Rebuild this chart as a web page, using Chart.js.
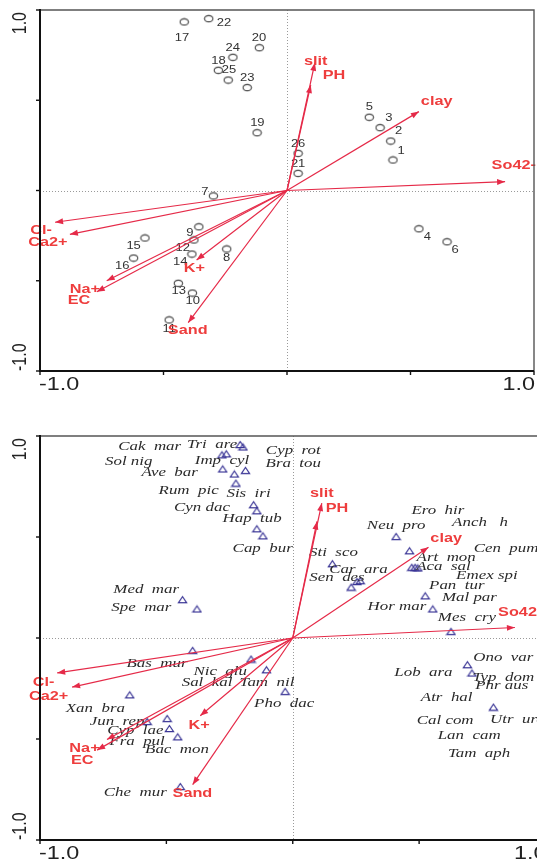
<!DOCTYPE html>
<html>
<head>
<meta charset="utf-8">
<script src="https://cdn.jsdelivr.net/npm/chart.js@4.4.1/dist/chart.umd.min.js"></script>
<style>
  html, body { margin: 0; padding: 0; overflow: hidden; background: #fff; width: 537px; height: 863px; }
  #sites { position: absolute; left: 0; top: 0; }
  #species { position: absolute; left: 0; top: 426px; }
</style>
</head>
<body>
<canvas id="sites" width="537" height="400"></canvas>
<canvas id="species" width="560" height="437"></canvas>
<script>
// ---------- axis ticks ----------
const tickValues = [-1, -0.5, 0, 0.5, 1];
const tickLabelValues = [-1, 1];
const tickLabels = ['-1.0', '1.0'];

// ---------- environmental variables ----------
const envNames = ['slit', 'PH', 'clay', 'So42-', 'Cl-', 'Ca2+', 'Na+', 'EC', 'K+', 'Sand'];

// site ordination (upper panel)
const envSiteX = [0.113, 0.096, 0.534, 0.883, -0.939, -0.879, -0.730, -0.770, -0.366, -0.400];
const envSiteY = [0.708, 0.584, 0.437, 0.049, -0.176, -0.243, -0.500, -0.561, -0.385, -0.732];
const envSiteLabelX = [0.116, 0.190, 0.606, 0.918, -0.996, -0.968, -0.818, -0.842, -0.375, -0.402];
const envSiteLabelY = [0.714, 0.638, 0.492, 0.141, -0.224, -0.289, -0.551, -0.607, -0.433, -0.777];

// species ordination (lower panel)
const envSpecX = [0.115, 0.096, 0.537, 0.879, -0.932, -0.873, -0.735, -0.774, -0.366, -0.396];
const envSpecY = [0.668, 0.577, 0.449, 0.052, -0.173, -0.243, -0.502, -0.555, -0.385, -0.726];
const envSpecLabelX = [0.115, 0.175, 0.607, 0.900, -0.986, -0.966, -0.824, -0.833, -0.370, -0.397];
const envSpecLabelY = [0.714, 0.639, 0.492, 0.124, -0.221, -0.291, -0.547, -0.607, -0.434, -0.771];

// ---------- sites ----------
const siteIds = ['1','2','3','4','5','6','7','8','9','10','11','12','13','14','15','16','17','18','19','20','21','22','23','24','25','26'];
const siteX = [0.429, 0.420, 0.377, 0.534, 0.333, 0.648, -0.298, -0.244, -0.357, -0.383, -0.477, -0.377, -0.440,
               -0.385, -0.575, -0.621, -0.416, -0.278, -0.121, -0.112, 0.045, -0.317, -0.161, -0.219, -0.238, 0.045];
const siteY = [0.169, 0.274, 0.348, -0.212, 0.406, -0.284, -0.030, -0.324, -0.201, -0.568, -0.717, -0.274, -0.514,
               -0.352, -0.263, -0.374, 0.934, 0.666, 0.320, 0.791, 0.095, 0.952, 0.570, 0.738, 0.612, 0.206];
const siteLabelX = [0.462, 0.452, 0.412, 0.568, 0.333, 0.681, -0.333, -0.244, -0.393, -0.382, -0.477, -0.422, -0.438,
                    -0.432, -0.621, -0.667, -0.425, -0.277, -0.120, -0.113, 0.045, -0.255, -0.161, -0.220, -0.235, 0.045];
const siteLabelY = [0.220, 0.326, 0.400, -0.259, 0.459, -0.331, -0.012, -0.374, -0.237, -0.614, -0.766, -0.320, -0.558,
                    -0.396, -0.311, -0.418, 0.845, 0.717, 0.370, 0.845, 0.147, 0.928, 0.622, 0.789, 0.664, 0.258];

// ---------- species ----------
const speciesPointX = [-0.208, -0.197, -0.280, -0.263, -0.277, -0.231, -0.187, -0.225, -0.155, -0.142, -0.142, -0.118,
                       -0.436, -0.379, 0.409, 0.462, 0.157, 0.471, 0.484, 0.495, 0.254, 0.267, 0.231, 0.524, 0.554,
                       0.626, 0.691, 0.709, 0.794, -0.030, -0.396, -0.165, -0.104, -0.645, -0.576, -0.497, -0.488,
                       -0.455, -0.445];
const speciesPointY = [0.958, 0.946, 0.907, 0.912, 0.837, 0.812, 0.830, 0.767, 0.660, 0.630, 0.541, 0.506,
                       0.190, 0.144, 0.503, 0.432, 0.368, 0.350, 0.350, 0.347, 0.280, 0.284, 0.252, 0.209, 0.144,
                       0.033, -0.132, -0.173, -0.342, -0.264, -0.061, -0.104, -0.157, -0.281, -0.413, -0.398, -0.448,
                       -0.489, -0.735];

const speciesNames = ['Cak  mar', 'Tri  are', 'Sol nig', 'Imp  cyl', 'Cyp  rot', 'Bra  tou', 'Ave  bar', 'Rum  pic',
  'Sis  iri', 'Cyn dac', 'Hap  tub', 'Cap  bur', 'Med  mar', 'Spe  mar', 'Ero  hir', 'Anch   h', 'Neu  pro',
  'Sti  sco', 'Art  mon', 'Cen  pum', 'Car  ara', 'Aca  sal', 'Sen  des', 'Emex spi', 'Pan  tur', 'Mal par',
  'Hor mar', 'Mes  cry', 'Ono  var', 'Lob  ara', 'Typ  dom', 'Phr aus', 'Atr  hal', 'Cal com', 'Utr  ure',
  'Lan  cam', 'Tam  aph', 'Bas  mur', 'Nic  glu', 'Sal  kal', 'Tam  nil', 'Pho  dac', 'Xan  bra', 'Jun  rep',
  'Cyp  lae', 'Fra  pul', 'Bac  mon', 'Che  mur'];
const speciesLabelX = [-0.566, -0.319, -0.649, -0.280, 0.002, 0.002, -0.487, -0.412,
  -0.175, -0.359, -0.161, -0.119, -0.580, -0.599, 0.574, 0.741, 0.409,
  0.161, 0.607, 0.844, 0.260, 0.596, 0.175, 0.768, 0.649, 0.699,
  0.412, 0.689, 0.833, 0.517, 0.833, 0.827, 0.609, 0.603, 0.887,
  0.698, 0.737, -0.537, -0.287, -0.339, -0.102, -0.034, -0.781, -0.695,
  -0.623, -0.616, -0.458, -0.623];
const speciesLabelY = [0.949, 0.957, 0.874, 0.879, 0.930, 0.865, 0.820, 0.731,
  0.713, 0.644, 0.589, 0.442, 0.239, 0.151, 0.632, 0.569, 0.556,
  0.421, 0.399, 0.442, 0.338, 0.354, 0.297, 0.308, 0.259, 0.198,
  0.156, 0.099, -0.099, -0.173, -0.195, -0.235, -0.297, -0.408, -0.404,
  -0.484, -0.573, -0.127, -0.165, -0.220, -0.220, -0.323, -0.347, -0.413,
  -0.457, -0.512, -0.553, -0.767];

// ---------- drawing helpers ----------
const ARROW = '#e52a48';
const ARROW_TEXT = '#ee3d3d';
const STRETCH = 1.3;

function zip(xs, ys) { return xs.map((x, i) => ({ x: x, y: ys[i] })); }

function ringMarker() {
  const c = document.createElement('canvas');
  c.width = 11; c.height = 9;
  const g = c.getContext('2d');
  g.strokeStyle = '#444'; g.lineWidth = 1.1;
  g.beginPath(); g.ellipse(5.5, 4.5, 4.2, 3.1, 0, 0, Math.PI * 2); g.stroke();
  return c;
}
function triangleMarker() {
  const c = document.createElement('canvas');
  c.width = 11; c.height = 9;
  const g = c.getContext('2d');
  g.strokeStyle = '#3b3696'; g.lineWidth = 1.2; g.lineJoin = 'miter';
  g.beginPath(); g.moveTo(5.5, 1.5); g.lineTo(9.6, 7.6); g.lineTo(1.4, 7.6); g.closePath(); g.stroke();
  return c;
}

function text(ctx, s, x, y, font, color, align) {
  ctx.save();
  ctx.translate(x, y);
  ctx.scale(STRETCH, 1);
  ctx.font = font; ctx.fillStyle = color;
  ctx.textAlign = align || 'center'; ctx.textBaseline = 'middle';
  ctx.fillText(s, 0, 0);
  ctx.restore();
}
function vtext(ctx, s, x, y, font, color, align) {
  ctx.save();
  ctx.translate(x, y);
  ctx.rotate(-Math.PI / 2);
  ctx.scale(1, STRETCH);
  ctx.font = font; ctx.fillStyle = color;
  ctx.textAlign = align; ctx.textBaseline = 'middle';
  ctx.fillText(s, 0, 0);
  ctx.restore();
}
function arrow(ctx, x0, y0, x1, y1) {
  ctx.strokeStyle = ARROW; ctx.fillStyle = ARROW; ctx.lineWidth = 1.2;
  ctx.beginPath(); ctx.moveTo(x0, y0); ctx.lineTo(x1, y1); ctx.stroke();
  const a = Math.atan2(y1 - y0, x1 - x0), L = 8, W = 3;
  ctx.beginPath();
  ctx.moveTo(x1, y1);
  ctx.lineTo(x1 - L * Math.cos(a) + W * Math.sin(a), y1 - L * Math.sin(a) - W * Math.cos(a));
  ctx.lineTo(x1 - L * Math.cos(a) - W * Math.sin(a), y1 - L * Math.sin(a) + W * Math.cos(a));
  ctx.closePath(); ctx.fill();
}

// builds the per-panel plugin: zero lines, labels, biplot arrows, frame and axes
function biplotPlugin(opt) {
  return {
    id: 'biplot',
    beforeDatasetsDraw(chart) {
      const { ctx, chartArea: a, scales: { x, y } } = chart;
      ctx.save();
      ctx.strokeStyle = '#9a9a9a'; ctx.lineWidth = 1; ctx.setLineDash([1, 2]);
      const x0 = Math.round(x.getPixelForValue(0)) + 0.5, y0 = Math.round(y.getPixelForValue(0)) + 0.5;
      ctx.beginPath(); ctx.moveTo(a.left, y0); ctx.lineTo(a.right, y0); ctx.stroke();
      ctx.beginPath(); ctx.moveTo(x0, a.top); ctx.lineTo(x0, a.bottom); ctx.stroke();
      ctx.restore();
    },
    afterDatasetsDraw(chart) {
      const { ctx, chartArea: a, scales: { x, y } } = chart;
      ctx.save();
      // point labels
      opt.labels.forEach((s, i) => {
        text(ctx, s, x.getPixelForValue(opt.labelX[i]), y.getPixelForValue(opt.labelY[i]), opt.labelFont, opt.labelColor);
      });
      // environmental arrows
      const ox = x.getPixelForValue(0), oy = y.getPixelForValue(0);
      opt.envX.forEach((v, i) => arrow(ctx, ox, oy, x.getPixelForValue(v), y.getPixelForValue(opt.envY[i])));
      envNames.forEach((s, i) => {
        text(ctx, s, x.getPixelForValue(opt.envLabelX[i]), y.getPixelForValue(opt.envLabelY[i]),
             'bold 12.5px "Liberation Sans", Arial, sans-serif', ARROW_TEXT);
      });
      // frame
      ctx.strokeStyle = '#555'; ctx.lineWidth = 1.4;
      ctx.beginPath(); ctx.moveTo(a.left, a.top); ctx.lineTo(a.right, a.top); ctx.lineTo(a.right, a.bottom); ctx.stroke();
      ctx.strokeStyle = '#111'; ctx.lineWidth = 2;
      ctx.beginPath(); ctx.moveTo(a.left, a.top - 1); ctx.lineTo(a.left, a.bottom); ctx.lineTo(a.right, a.bottom); ctx.stroke();
      // tick marks
      ctx.lineWidth = 1.4;
      tickValues.forEach(v => {
        const py = y.getPixelForValue(v), px = x.getPixelForValue(v);
        ctx.beginPath(); ctx.moveTo(a.left, py); ctx.lineTo(a.left - 4, py); ctx.stroke();
        ctx.beginPath(); ctx.moveTo(px, a.bottom); ctx.lineTo(px, a.bottom + 4); ctx.stroke();
      });
      // tick labels
      tickLabelValues.forEach((v, i) => {
        const px = x.getPixelForValue(v), py = y.getPixelForValue(v);
        text(ctx, tickLabels[i], v < 0 ? px - 1 : px + 1, a.bottom + opt.xLabelGap, '18px "Liberation Sans", Arial, sans-serif',
             '#222', v < 0 ? 'left' : 'right');
        vtext(ctx, tickLabels[i], 20, v > 0 ? py + 2 : py, '16px "Liberation Sans", Arial, sans-serif',
              '#222', v > 0 ? 'right' : 'left');
      });
      ctx.restore();
    }
  };
}

function makeChart(id, points, marker, pad, opt) {
  return new Chart(document.getElementById(id), {
    type: 'scatter',
    data: { datasets: [{ data: points, pointStyle: marker, pointRadius: 5, pointHoverRadius: 5, clip: false }] },
    options: {
      responsive: false, animation: false, devicePixelRatio: 1,
      layout: { padding: pad, autoPadding: false },
      plugins: { legend: { display: false }, tooltip: { enabled: false } },
      events: [],
      scales: {
        x: { type: 'linear', min: -1, max: 1, display: false },
        y: { type: 'linear', min: -1, max: 1, display: false }
      }
    },
    plugins: [biplotPlugin(opt)]
  });
}

// upper panel: sites
makeChart('sites', zip(siteX, siteY), ringMarker(),
  { left: 40, right: 3, top: 10, bottom: 29 },
  { labels: siteIds, labelX: siteLabelX, labelY: siteLabelY,
    labelFont: '10px "Liberation Sans", Arial, sans-serif', labelColor: '#333',
    envX: envSiteX, envY: envSiteY, envLabelX: envSiteLabelX, envLabelY: envSiteLabelY, xLabelGap: 14 });

// lower panel: species
makeChart('species', zip(speciesPointX, speciesPointY), triangleMarker(),
  { left: 40, right: 14.5, top: 10, bottom: 23 },
  { labels: speciesNames, labelX: speciesLabelX, labelY: speciesLabelY,
    labelFont: 'italic 13px "Liberation Serif", "Times New Roman", serif', labelColor: '#2a2a2a',
    envX: envSpecX, envY: envSpecY, envLabelX: envSpecLabelX, envLabelY: envSpecLabelY, xLabelGap: 14 });
</script>
</body>
</html>
